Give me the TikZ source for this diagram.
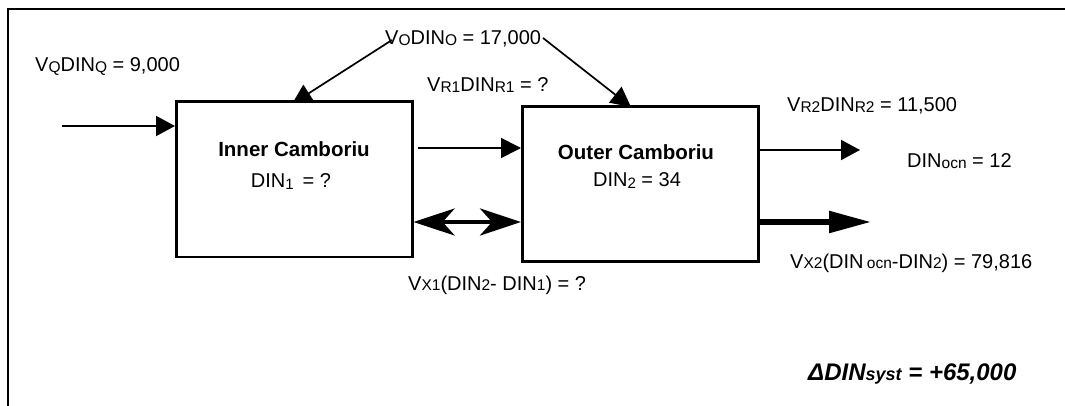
\documentclass[tikz,border=0pt]{standalone}
\usepackage{fontspec}
\setmainfont{Liberation Sans}
\usetikzlibrary{arrows.meta}
\pgfdeclarelayer{bg}
\pgfsetlayers{bg,main}
\newcommand{\sbs}[1]{\raisebox{-1.5pt}{\fontsize{15}{15}\selectfont #1}}
\newcommand{\sbb}[1]{\raisebox{-0.8pt}{\fontsize{15.5}{15.5}\selectfont #1}}
\tikzset{
  frame/.style={line width=2.8pt},
  box/.style={draw, line width=2.6pt, fill=white, minimum width=236pt, minimum height=155pt, anchor=north west, inner sep=0pt},
  lbl/.style={anchor=base west, inner sep=0pt, font=\fontsize{20}{24}\selectfont},
  ctr/.style={anchor=base, inner sep=0pt, font=\fontsize{20}{24}\selectfont},
  flow/.style={line width=2pt, -{Triangle[length=19pt,width=20pt]}},
  thinflow/.style={line width=1.7pt, -{Triangle[length=20pt,width=20pt]}},
  mix/.style={line width=4.5pt, {Stealth[length=41pt,width=27pt,inset=12pt]}-{Stealth[length=41pt,width=27pt,inset=12pt]}},
  bigflow/.style={line width=5.5pt, -{Triangle[length=42pt,width=21pt]}}
}
\begin{document}
\begin{tikzpicture}[x=1pt,y=-1pt]
\useasboundingbox (0,0) rectangle (1065,406);
\draw[frame] (8,406) -- (8,9) -- (1065,9);

% boxes
\node[box] (inner) at (175,100.5) {};
\node[box] (outer) at (521,105) {};

% texts in boxes
\node[ctr, font=\fontsize{20.5}{24}\selectfont\bfseries] (innername) at (294,157) {Inner Camboriu};
\node[ctr] (innerdin) at (291,188) {DIN\sbs{1}\, = ?};
\node[ctr, font=\fontsize{20.5}{24}\selectfont\bfseries] (outername) at (636,160) {Outer Camboriu};
\node[ctr] (outerdin) at (637,187) {DIN\sbs{2} = 34};

% connector coordinates
\coordinate (qin) at (62,126);
\coordinate (oleft) at (392,40);
\coordinate (oright) at (543,38);
\coordinate (oltip) at (292,104);
\coordinate (ortip) at (631,107);
\coordinate (r2end) at (860,150);
\coordinate (x2end) at (871,222);

% ocean inputs (behind boxes)
\begin{pgfonlayer}{bg}
\draw[thinflow] (oleft) -- (oltip);
\draw[thinflow] (oright) -- (ortip);
\end{pgfonlayer}

% flows
\draw[flow] (qin) -- (qin -| inner.west);
\draw[thinflow] ([xshift=4pt]inner.east |- 0,148) -- (outer.west |- 0,148);
\draw[mix] (inner.east |- 0,222) -- (outer.west |- 0,222);
\draw[flow] (outer.east |- r2end) -- (r2end);
\draw[bigflow] (outer.east |- x2end) -- (x2end);

% labels
\node[lbl] (vq) at (35,72) {V\sbb{Q}DIN\sbb{Q} = 9,000};
\node[lbl] (vo) at (385,45) {V\sbb{O}DIN\sbb{O} = 17,000};
\node[lbl] (vr1) at (427,92) {V\sbb{R1}DIN\sbb{R1} = ?};
\node[lbl] (vr2) at (787,112) {V\sbb{R2}DIN\sbb{R2} = 11,500};
\node[lbl] (docn) at (907,168) {DIN\sbb{ocn} = 12};
\node[lbl] (vx1) at (408,290) {V\sbb{X1}(DIN\sbb{2}- DIN\sbb{1}) = ?};
\node[lbl] (vx2) at (790,268) {V\sbb{X2}(DIN\,\sbb{ocn}-DIN\sbb{2}) = 79,816};
\node[lbl, font=\fontsize{24}{28}\selectfont\bfseries\itshape] (dsys) at (808,380) {ΔDIN{\fontsize{18}{18}\selectfont syst} = +65,000};
\end{tikzpicture}
\end{document}
